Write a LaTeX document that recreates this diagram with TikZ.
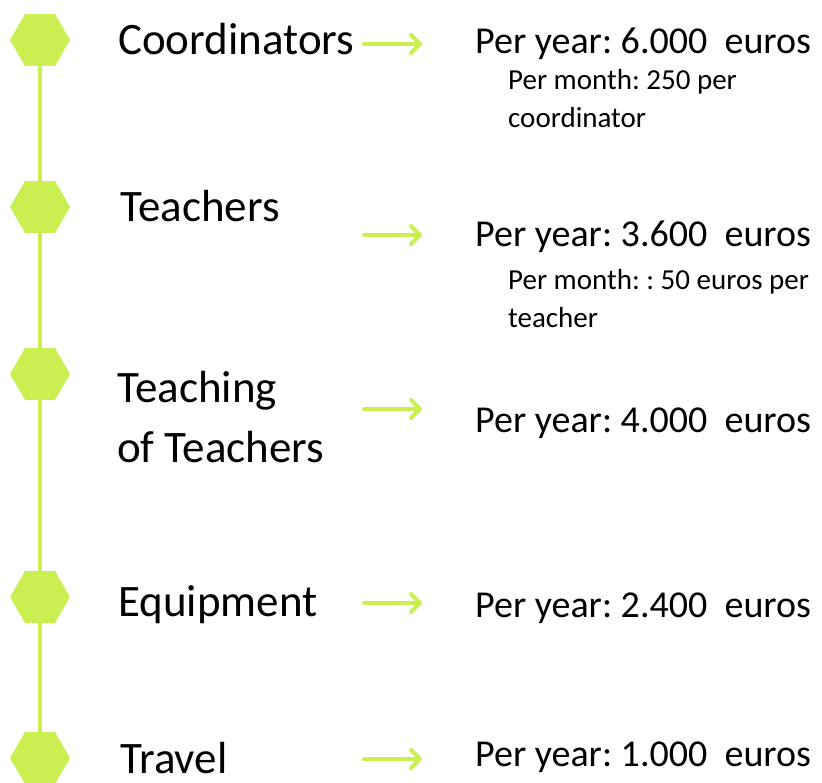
\documentclass[tikz,border=0pt]{standalone}
\usepackage{fontspec}
\setmainfont{Carlito}
\frenchspacing
\usetikzlibrary{shapes.geometric,arrows.meta}
\definecolor{lime}{RGB}{201,239,80}
\tikzset{
  hexa/.style={regular polygon, regular polygon sides=6, minimum size=60pt, inner sep=0pt, fill=lime},
  item/.style={anchor=base west, inner sep=0pt, align=left, font=\fontsize{45}{60}\selectfont},
  amount/.style={anchor=base west, inner sep=0pt, font=\fontsize{38}{44}\selectfont},
  detail/.style={anchor=base west, inner sep=0pt, align=left, font=\fontsize{29}{38}\selectfont},
  link/.style={lime, line width=4pt, line cap=round, -{Straight Barb[length=9pt,width=18pt,line cap=round,line join=round]}}
}
\begin{document}
\begin{tikzpicture}[x=1pt,y=-1pt]
  \useasboundingbox (0,0) rectangle (822,783);
  % hexagons on the time line
  \foreach \n/\y in {1/40,2/207,3/374,4/597,5/758}
    \node[hexa] (h\n) at (40,\y) {};
  \draw[lime, line width=4.5pt] (h1) -- (h5);
  % short arrows between the columns
  \foreach \n/\y in {1/44,2/235,3/409,4/603,5/759} {
    \coordinate (s\n) at (364,\y);
    \coordinate (e\n) at (422,\y);
    \draw[link] (s\n) -- (e\n);
  }
  % items (multi-line nodes sit on their last baseline)
  \node[item] (coord) at (118,55) {Coordinators};
  \node[item] (teach) at (120,222) {Teachers};
  \node[item] (train) at (117,462) {Teaching\\of Teachers};
  \node[item] (equip) at (118,616) {Equipment};
  \node[item] (travel) at (120,773) {Travel};
  % amounts
  \node[amount] (a1) at (475,54) {Per year: 6.000\ \ euros};
  \node[detail] (d1) at (508,128) {Per month: 250 per\\coordinator};
  \node[amount] (a2) at (475,247) {Per year: 3.600\ \ euros};
  \node[detail] (d2) at (508,328) {Per month: : 50 euros per\\teacher};
  \node[amount] (a3) at (475,432) {Per year: 4.000\ \ euros};
  \node[amount] (a4) at (475,617) {Per year: 2.400\ \ euros};
  \node[amount] (a5) at (475,766) {Per year: 1.000\ \ euros};
\end{tikzpicture}
\end{document}
